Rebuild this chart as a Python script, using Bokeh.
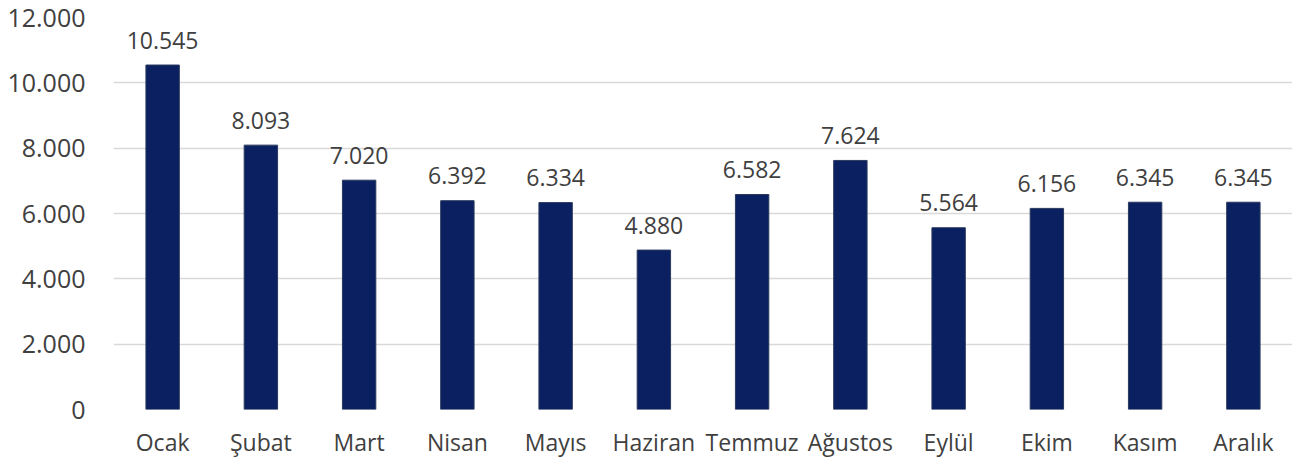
from bokeh.plotting import figure
from bokeh.models import ColumnDataSource, FixedTicker, LabelSet
from bokeh.core.properties import value
from bokeh.embed import file_html
from bokeh.resources import INLINE

months = ["Ocak", "Şubat", "Mart", "Nisan", "Mayıs", "Haziran", "Temmuz",
          "Ağustos", "Eylül", "Ekim", "Kasım", "Aralık"]
values = [10545, 8093, 7020, 6392, 6334, 4880, 6582, 7624, 5564, 6156, 6345, 6345]
value_labels = ["10.545", "8.093", "7.020", "6.392", "6.334", "4.880", "6.582",
                "7.624", "5.564", "6.156", "6.345", "6.345"]
y_ticks = [0, 2000, 4000, 6000, 8000, 10000, 12000]
y_tick_labels = ["0", "2.000", "4.000", "6.000", "8.000", "10.000", "12.000"]

FONT = "Open Sans"
TXT = "#404040"

src = ColumnDataSource(dict(m=months, v=values, lab=value_labels))

p = figure(x_range=months, y_range=(0, 12000), width=1292, height=460,
           output_backend="svg", toolbar_location=None,
           min_border_left=113, min_border_right=0, min_border_top=17,
           min_border_bottom=48)
p.x_range.range_padding = 0
p.outline_line_color = None
p.background_fill_color = "white"
p.border_fill_color = "white"

p.vbar(x="m", top="v", width=0.34, source=src, fill_color="#0a2060",
       line_color="#2a3a5e", line_width=1)

labels = LabelSet(x="m", y="v", text="lab", source=src, text_align="center",
                  text_baseline="middle", y_offset=25, text_font=value(FONT),
                  text_font_size="23px", text_color=TXT)
p.add_layout(labels)

p.yaxis.ticker = FixedTicker(ticks=y_ticks)
p.yaxis.major_label_overrides = {t: l for t, l in zip(y_ticks, y_tick_labels)}
p.yaxis.axis_line_color = None
p.yaxis.major_tick_line_color = None
p.yaxis.major_tick_out = 0
p.yaxis.major_tick_in = 0
p.yaxis.minor_tick_line_color = None
p.yaxis.minor_tick_out = 0
p.yaxis.major_label_standoff = 28
p.yaxis.major_label_text_font = FONT
p.yaxis.major_label_text_font_size = "25px"
p.yaxis.major_label_text_color = TXT

p.xaxis.axis_line_color = None
p.xaxis.major_tick_line_color = None
p.xaxis.major_tick_out = 0
p.xaxis.major_tick_in = 0
p.xaxis.major_label_standoff = 16
p.xaxis.major_label_text_font = FONT
p.xaxis.major_label_text_font_size = "23px"
p.xaxis.major_label_text_color = TXT

p.xgrid.grid_line_color = None
p.ygrid.grid_line_color = "#d9d9d9"
p.ygrid.grid_line_width = 1.5

open("out.html", "w").write(file_html(p, INLINE))
